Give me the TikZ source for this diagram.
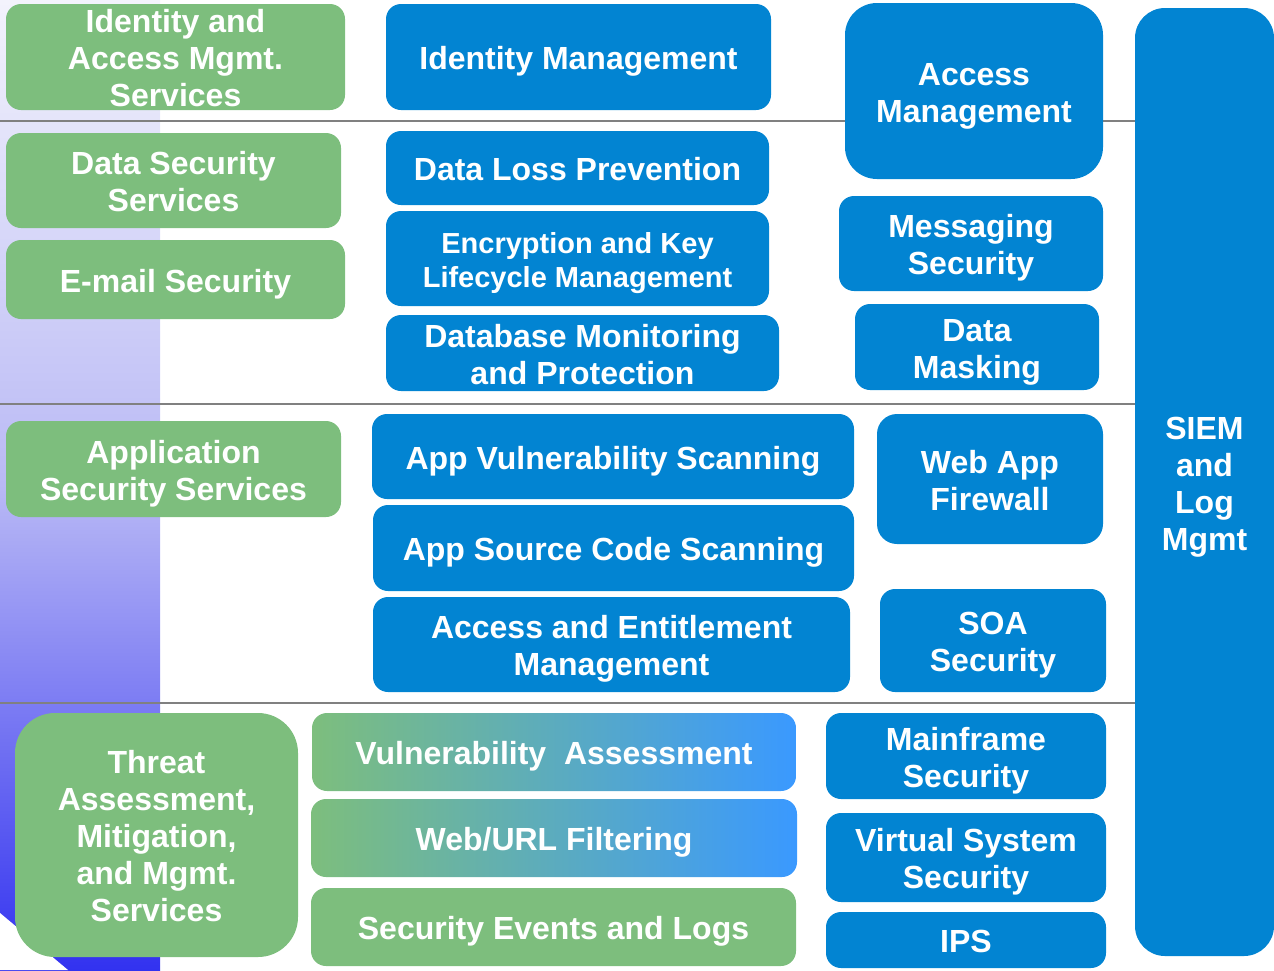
\documentclass[tikz,border=0pt]{standalone}
\usepackage{fontspec}
\setmainfont{Liberation Sans}
\usepackage{tikz}
\usepackage{xcolor}
\definecolor{boxblue}{RGB}{2,132,210}
\definecolor{boxgreen}{RGB}{125,190,125}
\definecolor{lightblue}{RGB}{58,153,255}
\definecolor{bartop}{RGB}{243,243,252}
\definecolor{barmid}{RGB}{185,185,245}
\definecolor{barblue}{RGB}{50,50,240}
\definecolor{linegray}{RGB}{128,128,128}

\begin{document}
\begin{tikzpicture}[x=1pt,y=-1pt]
        % Définition des styles
        \tikzset{
            box/.style={rectangle, rounded corners=15pt, text=white, align=center,
                        inner sep=0pt, font=\bfseries\fontsize{32}{37}\selectfont,
                        text height=32pt, text depth=7pt},
            twolines/.style={text height=69pt},
            threelines/.style={text height=99pt, text depth=0pt},
            fourlines/.style={text height=143pt},
            fivelines/.style={text height=180pt},
            greenbox/.style={box, fill=boxgreen},
            bluebox/.style={box, fill=boxblue},
            gradbox/.style={box, left color=boxgreen, right color=lightblue},
            sepline/.style={linegray, line width=2pt}
        }
        \useasboundingbox (0,0) rectangle (1274,970);

        % Bandeau dégradé et séparateurs
        \shade[top color=bartop, bottom color=barblue, middle color=barmid] (0,0) rectangle (160,970);
        \fill[white] (0,913) -- (68,970) -- (0,970) -- cycle;
        \draw[sepline] (0,121) -- (1135,121);
        \draw[sepline] (0,404) -- (1135,404);
        \draw[sepline] (0,703) -- (1135,703);

        % Colonne de gauche
        \node[greenbox, threelines, minimum width=339pt, minimum height=106pt] (iamservices) at (175.5,57) {Identity and\\Access Mgmt.\\Services};
        \node[greenbox, twolines, minimum width=335pt, minimum height=95pt] (dataservices) at (173.5,180.5) {Data Security\\Services};
        \node[greenbox, minimum width=339pt, minimum height=79pt] (email) at (175.5,279.5) {E-mail Security};
        \node[greenbox, twolines, minimum width=335pt, minimum height=96pt] (appservices) at (173.5,469) {Application\\Security Services};
        \node[greenbox, fivelines, minimum width=283pt, minimum height=244pt, rounded corners=40pt] (threat) at (156.5,835) {Threat\\Assessment,\\Mitigation,\\and Mgmt.\\Services};

        % Colonne du milieu
        \node[bluebox, minimum width=385pt, minimum height=106pt] (identity) at (578.5,57) {Identity Management};
        \node[bluebox, minimum width=383pt, minimum height=74pt] (dlp) at (577.5,168) {Data Loss Prevention};
        \node[bluebox, minimum width=383pt, minimum height=95pt, font=\bfseries\fontsize{29}{34}\selectfont,
              text height=63pt, text depth=6pt] (encryption) at (577.5,258.5) {Encryption and Key\\Lifecycle Management};
        \node[bluebox, twolines, minimum width=393pt, minimum height=76pt] (database) at (582.5,353) {Database Monitoring\\and Protection};
        \node[bluebox, minimum width=482pt, minimum height=85pt] (appscan) at (613,456.5) {App Vulnerability Scanning};
        \node[bluebox, minimum width=481pt, minimum height=86pt] (sourcescan) at (613.5,548) {App Source Code Scanning};
        \node[bluebox, twolines, minimum width=477pt, minimum height=95pt] (entitlement) at (611.5,644.5) {Access and Entitlement\\Management};
        \node[gradbox, minimum width=484pt, minimum height=78pt] (vulnassess) at (554,752) {Vulnerability~~Assessment};
        \node[gradbox, minimum width=486pt, minimum height=78pt] (webfilter) at (554,838) {Web/URL Filtering};
        \node[greenbox, minimum width=485pt, minimum height=78pt] (events) at (553.5,927) {Security Events and Logs};

        % Colonne de droite
        \node[bluebox, twolines, minimum width=258pt, minimum height=176pt, rounded corners=32pt] (access) at (974,91) {Access\\Management};
        \node[bluebox, twolines, minimum width=264pt, minimum height=95pt] (messaging) at (971,243.5) {Messaging\\Security};
        \node[bluebox, twolines, minimum width=244pt, minimum height=86pt] (masking) at (977,347) {Data\\Masking};
        \node[bluebox, twolines, minimum width=226pt, minimum height=130pt, rounded corners=20pt] (firewall) at (990,479) {Web App\\Firewall};
        \node[bluebox, twolines, minimum width=226pt, minimum height=103pt] (soa) at (993,640.5) {SOA\\Security};
        \node[bluebox, twolines, minimum width=280pt, minimum height=86pt] (mainframe) at (966,756) {Mainframe\\Security};
        \node[bluebox, twolines, minimum width=280pt, minimum height=89pt] (virtual) at (966,857.5) {Virtual System\\Security};
        \node[bluebox, minimum width=280pt, minimum height=56pt] (ips) at (966,940) {IPS};
        \node[bluebox, fourlines, minimum width=139pt, minimum height=948pt, rounded corners=30pt] (siem) at (1204.5,482) {SIEM\\and\\Log\\Mgmt};
    \end{tikzpicture}
\end{document}
